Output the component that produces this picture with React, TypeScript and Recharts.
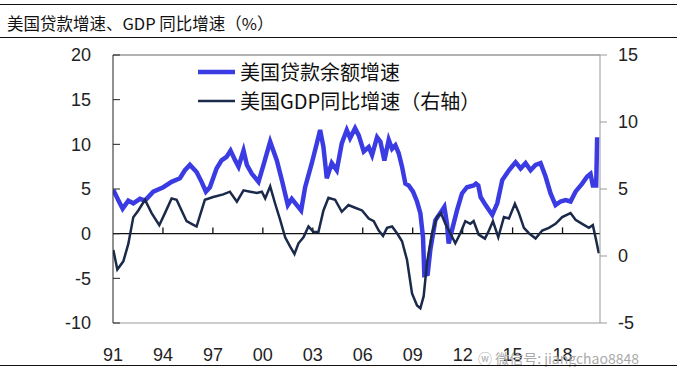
import React from "react";
import { LineChart, Line, XAxis, YAxis, ReferenceLine } from "recharts";

// 美国贷款余额增速（左轴，%）
const loanYears = [
  1991.02, 1991.32, 1991.58, 1991.92, 1992.22, 1992.62, 1992.92, 1993.42, 1994.02, 1994.52,
  1995.02, 1995.32, 1995.62, 1996.02, 1996.32, 1996.58, 1996.82, 1997.22, 1997.52, 1997.82,
  1998.06, 1998.34, 1998.54, 1998.84, 1999.04, 1999.34, 1999.74, 2000.04, 2000.44, 2000.84,
  2001.14, 2001.5, 2001.74, 2002.04, 2002.3, 2002.54, 2002.94, 2003.24, 2003.44, 2003.64,
  2003.84, 2004.14, 2004.44, 2004.74, 2005.04, 2005.24, 2005.54, 2005.76, 2006.06, 2006.36,
  2006.56, 2006.86, 2007.06, 2007.3, 2007.56, 2007.76, 2007.96, 2008.16, 2008.36, 2008.56,
  2008.76, 2009.02, 2009.26, 2009.46, 2009.62, 2009.7, 2009.9, 2010.06, 2010.36, 2010.76,
  2010.9, 2011.06, 2011.16, 2011.36, 2011.66, 2011.96, 2012.26, 2012.66, 2012.8, 2012.94,
  2013.08, 2013.38, 2013.78, 2014.08, 2014.38, 2014.78, 2015.18, 2015.48, 2015.78, 2016.08,
  2016.38, 2016.68, 2016.98, 2017.28, 2017.58, 2017.88, 2018.18, 2018.48, 2018.78, 2019.18,
  2019.48, 2019.68, 2019.82, 2020.02, 2020.08,
];
const loanValues = [
  4.9, 3.75, 2.8, 3.7, 3.4, 3.9, 3.7, 4.7, 5.2, 5.8,
  6.2, 7.1, 7.7, 6.9, 5.8, 4.7, 5.2, 7.3, 8.2, 8.6,
  9.3, 8.2, 7.5, 9.3, 7.7, 6.7, 5.8, 7.7, 10.3, 8.2,
  6.0, 3.2, 3.9, 3.2, 2.6, 5.2, 7.9, 10.1, 11.6, 9.7,
  6.2, 7.9, 7.1, 10.1, 11.6, 10.7, 11.8, 11.0, 9.2, 9.7,
  8.8, 10.8, 10.3, 8.2, 10.5, 9.5, 9.9, 9.0, 7.5, 5.6,
  5.4, 4.7, 3.6, 2.3, -0.4, -4.6, -4.5, -1.8, 1.5, 2.6,
  3.0, 1.1, -1.1, 0.4, 2.6, 4.5, 5.2, 5.4, 5.6, 5.4,
  4.1, 3.2, 2.1, 3.4, 6.0, 7.1, 8.0, 7.3, 7.9, 7.1,
  7.7, 7.9, 6.4, 4.5, 3.2, 3.6, 3.75, 3.6, 4.7, 5.6,
  6.4, 6.7, 5.4, 5.4, 10.8,
];

// 美国GDP同比增速（右轴，%）
const gdpYears = [
  1991.02, 1991.26, 1991.62, 1991.92, 1992.22, 1992.52, 1992.92, 1993.32, 1993.78, 1994.12,
  1994.52, 1994.82, 1995.12, 1995.42, 1995.72, 1996.02, 1996.32, 1996.52, 1997.02, 1997.62,
  1998.02, 1998.44, 1998.84, 1999.24, 1999.64, 1999.94, 2000.14, 2000.44, 2000.74, 2001.04,
  2001.34, 2001.64, 2001.9, 2002.14, 2002.44, 2002.74, 2003.04, 2003.34, 2003.64, 2003.94,
  2004.34, 2004.74, 2005.14, 2005.54, 2005.96, 2006.36, 2006.66, 2006.96, 2007.22, 2007.46,
  2007.76, 2008.06, 2008.36, 2008.66, 2008.96, 2009.26, 2009.46, 2009.66, 2009.86, 2010.16,
  2010.46, 2010.7, 2010.96, 2011.26, 2011.56, 2011.86, 2012.16, 2012.46, 2012.66, 2012.96,
  2013.34, 2013.58, 2013.82, 2014.14, 2014.48, 2014.78, 2015.14, 2015.38, 2015.68, 2015.98,
  2016.38, 2016.78, 2017.18, 2017.58, 2017.98, 2018.48, 2018.78, 2019.18, 2019.58, 2019.82,
  2019.98, 2020.18,
];
const gdpValues = [
  0.45, -1.0, -0.4, 0.9, 2.9, 3.4, 4.2, 3.2, 2.3, 3.2,
  4.3, 4.2, 3.4, 2.6, 2.4, 2.2, 3.4, 4.2, 4.4, 4.6,
  4.8, 4.05, 4.9, 4.8, 4.7, 4.8, 4.3, 5.2, 3.9, 2.7,
  1.4, 0.7, 0.15, 0.95, 1.4, 2.2, 1.8, 1.8, 3.4, 4.35,
  4.2, 3.3, 3.8, 3.6, 3.4, 2.8, 2.6, 1.9, 1.5, 2.1,
  2.2, 1.7, 1.1, -0.3, -2.8, -3.7, -3.9, -3.0, -0.5, 1.7,
  2.9, 3.2, 2.4, 1.7, 0.95, 1.7, 2.6, 2.4, 2.6, 1.6,
  1.3, 1.9, 2.6, 1.4, 2.9, 2.8, 3.9, 3.2, 2.1, 1.7,
  1.3, 1.9, 2.1, 2.4, 2.9, 3.2, 2.7, 2.4, 2.1, 2.3,
  1.4, 0.2,
];

const xTicks = [1991, 1994, 1997, 2000, 2003, 2006, 2009, 2012, 2015, 2018];
const leftTicks = [-10, -5, 0, 5, 10, 15, 20];
const rightTicks = [-5, 0, 5, 10, 15];

const loanData = loanYears.map((year, i) => ({ year, value: loanValues[i] }));
const gdpData = gdpYears.map((year, i) => ({ year, value: gdpValues[i] }));

const LOAN_COLOR = "#3b3be3";
const GDP_COLOR = "#1b2a4a";
const tickStyle = { fontFamily: "'Liberation Sans', Arial, sans-serif", fontSize: 18, fill: "#222" };
const cjk = "'Noto Sans CJK SC', 'Noto Sans', sans-serif";

const legendItems = [
  { label: "美国贷款余额增速", color: LOAN_COLOR, width: 4.5 },
  { label: "美国GDP同比增速（右轴）", color: GDP_COLOR, width: 2.5 },
];

function ChartLegend() {
  return (
    <div style={{ position: "absolute", left: 198, top: 57, fontFamily: cjk, fontSize: 20, color: "#111" }}>
      {legendItems.map((it) => (
        <div key={it.label} style={{ display: "flex", alignItems: "center", height: 29 }}>
          <svg width={42} height={10}>
            <line x1={0} y1={5} x2={37} y2={5} stroke={it.color} strokeWidth={it.width} />
          </svg>
          <span style={{ lineHeight: "29px", whiteSpace: "nowrap" }}>{it.label}</span>
        </div>
      ))}
    </div>
  );
}

export default function App() {
  return (
    <div style={{ position: "absolute", left: 0, top: 0, width: 677, height: 367, background: "#fff" }}>
      <div style={{ position: "absolute", left: 0, right: 0, top: 4, borderTop: "1px solid #111" }} />
      <div
        style={{
          position: "absolute",
          left: 7,
          top: 11,
          fontFamily: cjk,
          fontSize: 16.5,
          lineHeight: "24px",
          color: "#111",
          whiteSpace: "nowrap",
        }}
      >
        美国贷款增速、GDP 同比增速（%）
      </div>
      <div style={{ position: "absolute", left: 0, right: 0, top: 37, borderTop: "1px solid #111" }} />
      <LineChart width={677} height={367} margin={{ top: 55, right: 0, bottom: 0, left: 0 }}>
        <XAxis
          dataKey="year"
          type="number"
          domain={[1991, 2020.25]}
          allowDataOverflow
          ticks={xTicks}
          tickFormatter={(v: number) => String(v % 100).padStart(2, "0")}
          axisLine={{ stroke: "#999" }}
          tickLine={false}
          tickMargin={19}
          height={44}
          tick={tickStyle}
          interval={0}
        />
        <YAxis
          yAxisId="left"
          orientation="left"
          domain={[-10, 20]}
          ticks={leftTicks}
          width={113}
          axisLine={{ stroke: "#222" }}
          tickLine={{ stroke: "#222" }}
          tickSize={-7}
          tickMargin={29}
          tick={tickStyle}
          interval={0}
        />
        <YAxis
          yAxisId="right"
          orientation="right"
          domain={[-5, 15]}
          ticks={rightTicks}
          width={77}
          axisLine={{ stroke: "#999" }}
          tickLine={{ stroke: "#999" }}
          tickSize={7}
          tickMargin={11}
          tick={tickStyle}
          interval={0}
        />
        <ReferenceLine yAxisId="left" y={20} stroke="#999" strokeWidth={1.5} />
        <ReferenceLine yAxisId="left" y={0} stroke="#111" strokeWidth={1.3} />
        {xTicks.slice(1).map((t) => (
          <ReferenceLine
            key={t}
            yAxisId="left"
            segment={[
              { x: t, y: 0 },
              { x: t, y: 0.7 },
            ]}
            stroke="#111"
            strokeWidth={1.3}
          />
        ))}
        <Line
          yAxisId="left"
          data={loanData}
          dataKey="value"
          type="linear"
          stroke={LOAN_COLOR}
          strokeWidth={4.5}
          dot={false}
          isAnimationActive={false}
        />
        <Line
          yAxisId="right"
          data={gdpData}
          dataKey="value"
          type="linear"
          stroke={GDP_COLOR}
          strokeWidth={2.5}
          dot={false}
          isAnimationActive={false}
        />
      </LineChart>
      <ChartLegend />
      <div
        style={{
          position: "absolute",
          left: 478,
          top: 348,
          fontFamily: cjk,
          fontSize: 14,
          color: "#aaa",
          whiteSpace: "nowrap",
        }}
      >
        ⓦ 微信号: jiangchao8848
      </div>
      <div style={{ position: "absolute", left: 0, right: 0, top: 365, borderTop: "1px solid #111" }} />
    </div>
  );
}
